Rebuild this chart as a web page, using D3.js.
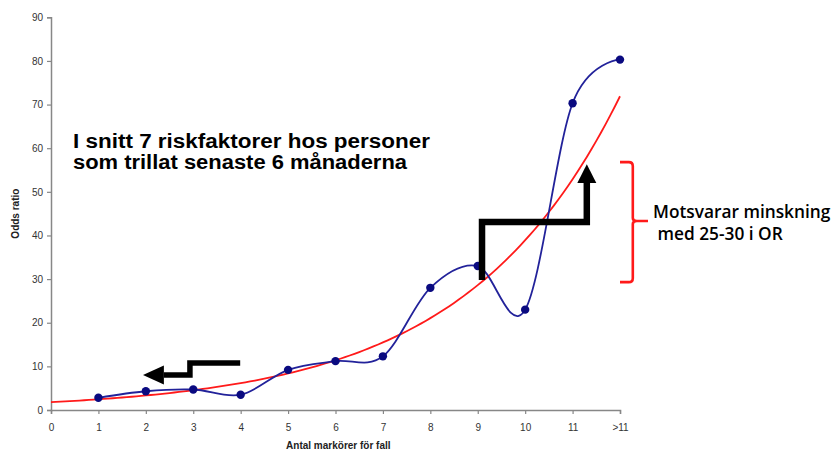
<!DOCTYPE html>
<html>
<head>
<meta charset="utf-8">
<script src="https://cdn.jsdelivr.net/npm/d3@7"></script>
<style>
  html, body { margin: 0; padding: 0; background: #fff; }
  svg { display: block; }
</style>
</head>
<body>
<script>
// ---- data ----
const xTickLabels = ["0", "1", "2", "3", "4", "5", "6", "7", "8", "9", "10", "11", ">11"];
const markerCounts = [1, 2, 3, 4, 5, 6, 7, 8, 9, 10, 11, 12];
const oddsRatios = [2.8, 4.3, 4.7, 3.5, 9.2, 11.2, 12.3, 28.0, 33.0, 23.0, 70.3, 80.3];
const yTicks = [0, 10, 20, 30, 40, 50, 60, 70, 80, 90];
const yTitle = "Odds ratio";
const xTitle = "Antal markörer för fall";
const mainText = ["I snitt 7 riskfaktorer hos personer", "som trillat senaste 6 månaderna"];
const sideText = ["Motsvarar minskning", " med 25-30 i OR"];

const W = 833, H = 452;
const svg = d3.select("body").append("svg").attr("width", W).attr("height", H);

const x = d3.scaleLinear().domain([0, 12]).range([51, 620]);
const y = d3.scaleLinear().domain([0, 90]).range([410, 17.3]);

// axes
const axisColor = "#878787";
const yAxis = svg.append("g").attr("transform", `translate(${x(0)},0)`)
  .call(d3.axisLeft(y).tickValues(yTicks).tickSize(4).tickPadding(4));
const xAxis = svg.append("g").attr("transform", `translate(0,${y(0)})`)
  .call(d3.axisBottom(x).tickValues(d3.range(xTickLabels.length)).tickFormat(i => xTickLabels[i]).tickSize(4).tickPadding(10));
[yAxis, xAxis].forEach(g => {
  g.select(".domain").attr("stroke", axisColor).attr("stroke-width", 1.5);
  g.selectAll(".tick line").attr("stroke", axisColor).attr("stroke-width", 1.2);
  g.selectAll(".tick text").attr("fill", "#333").attr("font-family", "Liberation Sans, Arial, sans-serif").attr("font-size", 10);
});

// axis titles
svg.append("text").attr("transform", `translate(19,${y(45)}) rotate(-90)`)
  .attr("text-anchor", "middle").attr("font-family", "Liberation Sans, Arial, sans-serif")
  .attr("font-size", 10).attr("font-weight", "bold").attr("fill", "#222").text(yTitle);
svg.append("text").attr("x", x(6.06)).attr("y", 449)
  .attr("text-anchor", "middle").attr("font-family", "Liberation Sans, Arial, sans-serif")
  .attr("font-size", 10).attr("font-weight", "bold").attr("fill", "#222").text(xTitle);

// exponential trend line (least squares on ln(OR), as a spreadsheet trendline)
const lnY = oddsRatios.map(Math.log);
const mx = d3.mean(markerCounts), my = d3.mean(lnY);
const b = d3.sum(markerCounts.map((v, i) => (v - mx) * (lnY[i] - my))) / d3.sum(markerCounts.map(v => (v - mx) ** 2));
const a = Math.exp(my - b * mx);
const trendPts = d3.range(0, 12.001, 0.1).map(t => [t, a * Math.exp(b * t)]);
svg.append("path").datum(trendPts)
  .attr("d", d3.line().x(d => x(d[0])).y(d => y(d[1])))
  .attr("fill", "none").attr("stroke", "#ff1a1a").attr("stroke-width", 1.8);

// smoothed data line
const pts = markerCounts.map((v, i) => [v, oddsRatios[i]]);
svg.append("path").datum(pts)
  .attr("d", d3.line().x(d => x(d[0])).y(d => y(d[1])).curve(d3.curveCardinal.tension(0)))
  .attr("fill", "none").attr("stroke", "#22229a").attr("stroke-width", 1.8);
svg.selectAll("circle.pt").data(pts).join("circle").attr("class", "pt")
  .attr("cx", d => x(d[0])).attr("cy", d => y(d[1])).attr("r", 4.2).attr("fill", "#0a0a80");

// main annotation text
const mainWidths = [357, 334];
svg.append("g").selectAll("text").data(mainText).join("text")
  .attr("x", 73).attr("y", (d, i) => 148 + i * 21.3)
  .attr("textLength", (d, i) => mainWidths[i]).attr("lengthAdjust", "spacingAndGlyphs")
  .attr("font-family", "Liberation Sans, Arial, sans-serif").attr("font-size", 20)
  .attr("font-weight", "bold").attr("fill", "#000").text(d => d);

// side text
svg.append("g").selectAll("text").data(sideText).join("text")
  .attr("x", 653).attr("y", (d, i) => 217.7 + i * 22.3).attr("xml:space", "preserve")
  .style("white-space", "pre")
  .attr("font-family", "Open Sans, sans-serif").attr("font-size", 17.3)
  .attr("font-weight", 600).attr("fill", "#000").text(d => d);

// red bracket
const bx0 = x(12.0), bx1 = x(12.27), bx2 = x(12.59);
const byT = y(56.8), byB = y(29.3), byM = y(43.3);
svg.append("path")
  .attr("d", `M${bx0},${byT} L${bx1 - 4},${byT} Q${bx1},${byT} ${bx1},${byT + 4} L${bx1},${byM - 3} Q${bx1},${byM} ${bx1 + 4},${byM} L${bx2},${byM} M${bx1 + 4},${byM} Q${bx1},${byM} ${bx1},${byM + 3} L${bx1},${byB - 4} Q${bx1},${byB} ${bx1 - 4},${byB} L${bx0},${byB}`)
  .attr("fill", "none").attr("stroke", "#ff1a1a").attr("stroke-width", 2.6);

// black arrow 1 (pointing left)
svg.append("path")
  .attr("d", `M${x(3.99)},${y(10.8)} L${x(2.93)},${y(10.8)} L${x(2.93)},${y(8.0)} L${x(2.38)},${y(8.0)}`)
  .attr("fill", "none").attr("stroke", "#000").attr("stroke-width", 5.5).attr("stroke-linejoin", "miter");
svg.append("path")
  .attr("d", `M${x(1.94)},${y(8.0)} L${x(2.38)},${y(8.0) - 9.5} L${x(2.38)},${y(8.0) + 9.5} Z`)
  .attr("fill", "#000");

// black arrow 2 (pointing up)
svg.append("path")
  .attr("d", `M${x(9.09)},${y(29.8)} L${x(9.09)},${y(43.1)} L${x(11.3)},${y(43.1)} L${x(11.3)},${y(52.0)}`)
  .attr("fill", "none").attr("stroke", "#000").attr("stroke-width", 6.5).attr("stroke-linejoin", "miter");
svg.append("path")
  .attr("d", `M${x(11.3)},${y(56.3)} L${x(11.3) - 9.5},${y(52.0)} L${x(11.3) + 9.5},${y(52.0)} Z`)
  .attr("fill", "#000");
</script>
</body>
</html>
